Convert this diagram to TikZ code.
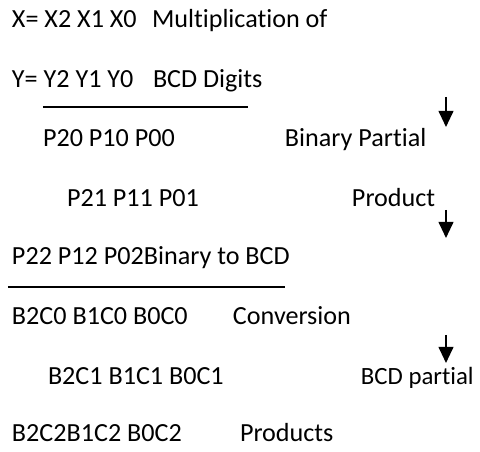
\documentclass[tikz,border=0pt]{standalone}
\usepackage{fontspec}
\setmainfont[Ligatures=NoCommon]{Carlito}
\usetikzlibrary{arrows.meta}
\begin{document}
\begin{tikzpicture}[x=0.75pt,y=-0.75pt,
  txt/.style={anchor=base west,inner sep=0pt,outer sep=0pt,font=\fontsize{19.6pt}{23pt}\selectfont},
  rule/.style={line width=1.5pt},
  flow/.style={line width=1.5pt,-{Triangle[width=11pt,length=12pt]}}]
\useasboundingbox (0,0) rectangle (480,452);
% operands
\node[txt] (xrow) at (12,28) {X= X2 X1 X0};
\node[txt] (t1) at (152,28) {Multiplication of};
\node[txt] (yrow) at (12,88) {Y= Y2 Y1 Y0};
\node[txt] (t2) at (153,88) {BCD Digits};
\coordinate (r1a) at (43,107);
\coordinate (r1b) at (248,107);
\draw[rule] (r1a) -- (r1b);
% binary partial products
\node[txt] (p0) at (43,147) {P20 P10 P00};
\node[txt] (t3) at (285,147) {Binary Partial};
\node[txt] (p1) at (67,207) {P21 P11 P01};
\node[txt] (t4) at (352,207) {Product};
\node[txt] (p2) at (12,265) {P22 P12 P02Binary to BCD};
\coordinate (r2a) at (8,287);
\coordinate (r2b) at (285,287);
\draw[rule] (r2a) -- (r2b);
% BCD partial products
\node[txt] (b0) at (12,325) {B2C0 B1C0 B0C0};
\node[txt] (t5) at (233,325) {Conversion};
\node[txt,font=\fontsize{18.6pt}{22pt}\selectfont] (t6) at (361,385) {BCD partial};
\node[txt] (b1) at (48,385) {B2C1 B1C1 B0C1};
\node[txt] (b2) at (12,442) {B2C2B1C2 B0C2};
\node[txt] (t7) at (240,442) {Products};
% flow arrows
\coordinate (a1s) at (446,97);
\coordinate (a1e) at (446,127);
\coordinate (a2s) at (446,210);
\coordinate (a2e) at (446,238);
\coordinate (a3s) at (446,335);
\coordinate (a3e) at (446,363);
\draw[flow] (a1s) -- (a1e);
\draw[flow] (a2s) -- (a2e);
\draw[flow] (a3s) -- (a3e);
\end{tikzpicture}
\end{document}
